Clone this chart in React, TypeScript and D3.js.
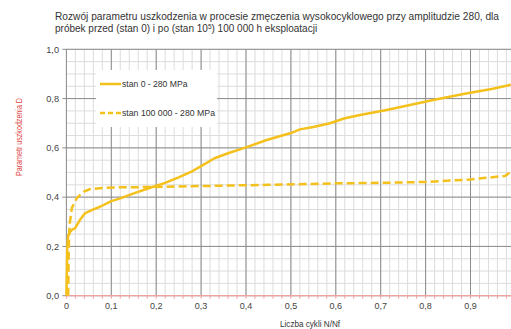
import React, { useEffect, useRef } from "react";
import * as d3 from "d3";

const W = 511;
const H = 329;

// stan 0 - 280 MPa (solid)
const stan0N = [0, 0.001, 0.002, 0.004, 0.008, 0.012, 0.019, 0.03, 0.041, 0.06, 0.075, 0.1, 0.12, 0.15, 0.19, 0.22, 0.25, 0.28, 0.3, 0.33, 0.36, 0.4, 0.446, 0.5, 0.52, 0.55, 0.587, 0.62, 0.654, 0.713, 0.76, 0.817, 0.89, 0.95, 0.99];
const stan0D = [0, 0.1, 0.2, 0.245, 0.258, 0.267, 0.273, 0.307, 0.334, 0.35, 0.361, 0.384, 0.395, 0.415, 0.44, 0.458, 0.48, 0.505, 0.526, 0.558, 0.578, 0.602, 0.632, 0.66, 0.675, 0.685, 0.7, 0.72, 0.733, 0.754, 0.772, 0.794, 0.821, 0.84, 0.856];

// stan 100 000 - 280 MPa (dashed)
const stan1N = [0.004, 0.005, 0.006, 0.008, 0.012, 0.023, 0.038, 0.053, 0.08, 0.12, 0.186, 0.3, 0.45, 0.6, 0.7, 0.81, 0.9, 0.977, 0.99];
const stan1D = [0, 0.15, 0.25, 0.3, 0.355, 0.396, 0.422, 0.433, 0.437, 0.44, 0.441, 0.445, 0.45, 0.456, 0.458, 0.462, 0.472, 0.486, 0.503];

const yTicks = [0, 0.2, 0.4, 0.6, 0.8, 1.0];
const xTicks = [0, 0.1, 0.2, 0.3, 0.4, 0.5, 0.6, 0.7, 0.8, 0.9];

const COLOR = "#f4c11c";
const FONT = "'Liberation Sans', Arial, sans-serif";

export default function App() {
  const ref = useRef<SVGSVGElement>(null);

  useEffect(() => {
    const svg = d3.select(ref.current);
    svg.selectAll("*").remove();

    const x = d3.scaleLinear().domain([0, 1]).range([66.4, 515.4]);
    const y = d3.scaleLinear().domain([0, 1]).range([295.7, 49.3]);

    const g = svg.append("g");

    // minor grid
    d3.range(0, 1.0001, 0.02).forEach((v) => {
      g.append("line")
        .attr("x1", x(v)).attr("x2", x(v))
        .attr("y1", y(0)).attr("y2", y(1))
        .attr("stroke", "#dcdcdc").attr("stroke-width", 1);
    });
    d3.range(0, 1.0001, 0.05).forEach((v) => {
      g.append("line")
        .attr("x1", x(0)).attr("x2", W)
        .attr("y1", y(v)).attr("y2", y(v))
        .attr("stroke", "#dcdcdc").attr("stroke-width", 1);
    });
    // major grid
    xTicks.forEach((v) => {
      g.append("line")
        .attr("x1", x(v)).attr("x2", x(v))
        .attr("y1", y(0)).attr("y2", y(1))
        .attr("stroke", "#8c8c8c").attr("stroke-width", 1);
    });
    yTicks.forEach((v) => {
      g.append("line")
        .attr("x1", x(0) - 4).attr("x2", W)
        .attr("y1", y(v)).attr("y2", y(v))
        .attr("stroke", "#8c8c8c").attr("stroke-width", 1);
    });

    // bottom axis (red)
    g.append("line")
      .attr("x1", x(0)).attr("x2", W)
      .attr("y1", y(0)).attr("y2", y(0))
      .attr("stroke", "#f2a0a0").attr("stroke-width", 1.2);
    d3.range(0, 1.0001, 0.02).forEach((v) => {
      g.append("line")
        .attr("x1", x(v)).attr("x2", x(v))
        .attr("y1", y(0)).attr("y2", y(0) + 3)
        .attr("stroke", "#f2a0a0").attr("stroke-width", 1);
    });

    // legend box
    g.append("rect")
      .attr("x", 96).attr("y", 70).attr("width", 121).attr("height", 57)
      .attr("fill", "#fff");
    g.append("line")
      .attr("x1", 100).attr("x2", 121).attr("y1", 84).attr("y2", 84)
      .attr("stroke", COLOR).attr("stroke-width", 2.5);
    g.append("line")
      .attr("x1", 100).attr("x2", 121).attr("y1", 113).attr("y2", 113)
      .attr("stroke", COLOR).attr("stroke-width", 2.5).attr("stroke-dasharray", "5,3");
    g.append("text").attr("x", 122).attr("y", 87).text("stan 0 - 280 MPa")
      .attr("font-size", 8.6).attr("fill", "#333").attr("font-family", FONT);
    g.append("text").attr("x", 122).attr("y", 116).text("stan 100 000 - 280 MPa")
      .attr("font-size", 8.6).attr("fill", "#333").attr("font-family", FONT)
      .attr("textLength", 93).attr("lengthAdjust", "spacingAndGlyphs");

    const line = d3.line<[number, number]>()
      .x((d) => x(d[0]))
      .y((d) => y(d[1]));

    g.append("path")
      .datum(stan0N.map((n, i) => [n, stan0D[i]] as [number, number]))
      .attr("d", line)
      .attr("fill", "none").attr("stroke", COLOR).attr("stroke-width", 2.5)
      .attr("stroke-linejoin", "round");
    g.append("path")
      .datum(stan1N.map((n, i) => [n, stan1D[i]] as [number, number]))
      .attr("d", line)
      .attr("fill", "none").attr("stroke", COLOR).attr("stroke-width", 2.5)
      .attr("stroke-dasharray", "8,4");

    // tick labels
    yTicks.forEach((v) => {
      g.append("text")
        .attr("x", 59).attr("y", y(v) + 3.3)
        .attr("text-anchor", "end")
        .attr("font-size", 9.2).attr("fill", "#444").attr("font-family", FONT)
        .text(d3.format(".1f")(v).replace(".", ","));
    });
    xTicks.forEach((v) => {
      g.append("text")
        .attr("x", x(v)).attr("y", 309)
        .attr("text-anchor", "middle")
        .attr("font-size", 9).attr("fill", "#444").attr("font-family", FONT)
        .text(v === 0 ? "0" : d3.format(".1f")(v).replace(".", ","));
    });

    // axis titles
    g.append("text")
      .attr("x", 280).attr("y", 327)
      .attr("font-size", 9).attr("fill", "#333").attr("font-family", FONT)
      .attr("textLength", 60).attr("lengthAdjust", "spacingAndGlyphs")
      .text("Liczba cykli N/Nf");
    g.append("text")
      .attr("transform", "translate(22,137) rotate(-90)")
      .attr("x", -39)
      .attr("font-size", 8.8).attr("fill", "#e04848").attr("font-family", FONT)
      .attr("textLength", 78).attr("lengthAdjust", "spacingAndGlyphs")
      .text("Parametr uszkodzenia  D");

    // title
    g.append("text")
      .attr("x", 55).attr("y", 20)
      .attr("font-size", 10).attr("fill", "#333").attr("font-family", FONT)
      .attr("textLength", 444).attr("lengthAdjust", "spacingAndGlyphs")
      .text("Rozwój parametru uszkodzenia w procesie zmęczenia wysokocyklowego przy amplitudzie 280, dla");
    const t2 = g.append("text")
      .attr("x", 55).attr("y", 32)
      .attr("font-size", 10).attr("fill", "#333").attr("font-family", FONT);
    t2.append("tspan").text("próbek przed (stan 0)  i po (stan 10");
    t2.append("tspan").attr("font-size", 6.5).attr("dy", -3.5).text("5");
    t2.append("tspan").attr("dy", 3.5).text(") 100 000 h eksploatacji");
  }, []);

  return (
    <svg
      ref={ref}
      width={W}
      height={H}
      style={{ position: "absolute", left: 0, top: 0, background: "#fff" }}
    />
  );
}
